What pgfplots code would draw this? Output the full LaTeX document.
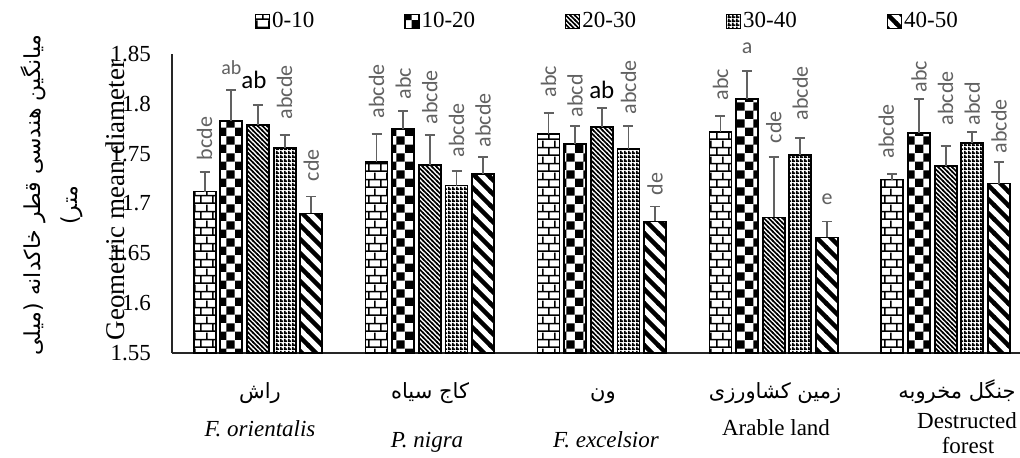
\documentclass[border=0pt]{standalone}
\usepackage{fontspec}
\setmainfont{Liberation Serif}
\newfontfamily\calfont{Carlito}
\newfontfamily\arabicfont[Script=Arabic]{DejaVu Sans}
\TeXXeTstate=1
\usepackage{pgfplots}
\pgfplotsset{compat=1.18}
\usepackage{pgfplotstable}
\usetikzlibrary{patterns}

% ---- fill patterns, one per soil depth ----
\pgfdeclarepatternformonly{brickwall}{\pgfqpoint{0pt}{0pt}}{\pgfqpoint{6.2pt}{7.8pt}}{\pgfqpoint{6.2pt}{7.8pt}}{%
  \pgfsetlinewidth{0.8pt}%
  \pgfpathmoveto{\pgfqpoint{0pt}{0.4pt}}\pgfpathlineto{\pgfqpoint{6.2pt}{0.4pt}}%
  \pgfpathmoveto{\pgfqpoint{0pt}{4.3pt}}\pgfpathlineto{\pgfqpoint{6.2pt}{4.3pt}}%
  \pgfpathmoveto{\pgfqpoint{1.5pt}{0.4pt}}\pgfpathlineto{\pgfqpoint{1.5pt}{4.3pt}}%
  \pgfpathmoveto{\pgfqpoint{4.6pt}{4.3pt}}\pgfpathlineto{\pgfqpoint{4.6pt}{7.8pt}}%
  \pgfusepath{stroke}}
\pgfdeclarepatternformonly{checks}{\pgfqpoint{0pt}{0pt}}{\pgfqpoint{8.4pt}{8.4pt}}{\pgfqpoint{8.4pt}{8.4pt}}{%
  \pgfpathrectangle{\pgfqpoint{0pt}{0pt}}{\pgfqpoint{4.2pt}{4.2pt}}%
  \pgfpathrectangle{\pgfqpoint{4.2pt}{4.2pt}}{\pgfqpoint{4.2pt}{4.2pt}}%
  \pgfusepath{fill}}
\pgfdeclarepatternformonly{finediag}{\pgfqpoint{-0.5pt}{-0.5pt}}{\pgfqpoint{2.8pt}{2.8pt}}{\pgfqpoint{2.3pt}{2.3pt}}{%
  \pgfsetlinewidth{0.8pt}%
  \pgfpathmoveto{\pgfqpoint{-0.5pt}{2.8pt}}\pgfpathlineto{\pgfqpoint{2.8pt}{-0.5pt}}%
  \pgfusepath{stroke}}
\pgfdeclarepatternformonly{finegrid}{\pgfqpoint{0pt}{0pt}}{\pgfqpoint{2pt}{2pt}}{\pgfqpoint{2pt}{2pt}}{%
  \pgfpathrectangle{\pgfqpoint{0pt}{0pt}}{\pgfqpoint{2pt}{1pt}}%
  \pgfpathrectangle{\pgfqpoint{0pt}{0pt}}{\pgfqpoint{1pt}{2pt}}%
  \pgfusepath{fill}}
\pgfdeclarepatternformonly{widediag}{\pgfqpoint{-1pt}{-1pt}}{\pgfqpoint{8pt}{8pt}}{\pgfqpoint{7pt}{7pt}}{%
  \pgfsetlinewidth{2.2pt}%
  \pgfpathmoveto{\pgfqpoint{-1pt}{8pt}}\pgfpathlineto{\pgfqpoint{8pt}{-1pt}}%
  \pgfusepath{stroke}}

% ---- letter labels above the error bars ----
\tikzset{
  lr/.style={font=\calfont\fontsize{11}{13}\selectfont, text=black!62, rotate=90, anchor=west, inner sep=0pt},
  lh/.style={font=\calfont\fontsize{#1}{13}\selectfont, text=black!62, anchor=base, inner sep=0pt},
  lb/.style={font=\calfont\fontsize{12.5}{14}\selectfont, text=black, anchor=base, inner sep=0pt},
  fa/.style={font=\arabicfont\fontsize{10.5}{13}\selectfont, anchor=base, inner sep=0pt},
  en/.style={font=\fontsize{11.5}{13}\selectfont, anchor=base, inner sep=0pt},
}

% ---- data: mean GMD (mm) and standard error, land uses 0..4 ----
\pgfplotstableread{
x y e
0 1.712 0.020
1 1.742 0.028
2 1.770 0.021
3 1.772 0.016
4 1.724 0.006
}\depthA
\pgfplotstableread{
x y e
0 1.783 0.031
1 1.775 0.018
2 1.760 0.018
3 1.805 0.028
4 1.771 0.034
}\depthB
\pgfplotstableread{
x y e
0 1.779 0.020
1 1.739 0.030
2 1.777 0.019
3 1.686 0.061
4 1.738 0.020
}\depthC
\pgfplotstableread{
x y e
0 1.756 0.013
1 1.718 0.015
2 1.755 0.023
3 1.749 0.017
4 1.761 0.011
}\depthD
\pgfplotstableread{
x y e
0 1.690 0.017
1 1.730 0.017
2 1.682 0.015
3 1.666 0.016
4 1.720 0.022
}\depthE

\begin{document}
\begin{tikzpicture}
\useasboundingbox (0,0) rectangle (510pt,-228.5pt);
\fill[white] (0,0) rectangle (510pt,-228.5pt);
\begin{axis}[
  at={(86pt,-176.5pt)}, anchor=south west,
  scale only axis, width=425.5pt, height=149.5pt,
  xmin=-0.5, xmax=4.45, ymin=1.55, ymax=1.85,
  axis x line*=bottom, axis y line*=left,
  axis line style={line width=0.7pt, black!85},
  xtick=\empty,
  ytick={1.55,1.6,1.65,1.7,1.75,1.8,1.85},
  major tick length=0pt,
  yticklabel style={font=\fontsize{11.5}{13}\selectfont, xshift=-7pt,
     /pgf/number format/fixed, /pgf/number format/precision=2,
     /pgf/number format/assume math mode=true},
  ybar, bar width=0.128,
  clip mode=individual,
  legend columns=5,
  legend style={draw=none, fill=none, at={(0.097,1.11)}, anchor=west,
     inner sep=0pt, font=\fontsize{11.5}{13}\selectfont,
     nodes={inner xsep=1pt, inner ysep=0pt},
     /tikz/every even column/.append style={column sep=44pt}},
  legend image code/.code={\draw[#1, line width=0.6pt] (0pt,-3.5pt) rectangle (7pt,3.5pt);},
  every axis plot/.append style={draw=black, line width=0.9pt,
    error bars/y dir=plus, error bars/y explicit,
    error bars/error bar style={line width=0.9pt, black!62},
    error bars/error mark options={rotate=90, mark size=2.5pt, line width=0.9pt, black!62}},
]
\addplot[pattern=brickwall, bar shift=-0.31] table[x=x, y=y, y error=e] {\depthA};
\addlegendentry{0-10}
\addplot[pattern=checks, bar shift=-0.155] table[x=x, y=y, y error=e] {\depthB};
\addlegendentry{10-20}
\addplot[pattern=finediag, bar shift=0] table[x=x, y=y, y error=e] {\depthC};
\addlegendentry{20-30}
\addplot[pattern=finegrid, bar shift=0.155] table[x=x, y=y, y error=e] {\depthD};
\addlegendentry{30-40}
\addplot[pattern=widediag, bar shift=0.31] table[x=x, y=y, y error=e] {\depthE};
\addlegendentry{40-50}

% significance letters
\node[lr] at ([yshift=5.5pt]axis cs:-0.31,1.732) {bcde};
\node[lh=10] at ([yshift=7.8pt]axis cs:-0.155,1.814) {ab};
\node[lb] at ([xshift=-2pt,yshift=8pt]axis cs:0,1.799) {ab};
\node[lr] at ([yshift=7.5pt]axis cs:0.155,1.769) {abcde};
\node[lr] at ([yshift=7.5pt]axis cs:0.31,1.707) {cde};

\node[lr] at ([yshift=7.5pt]axis cs:0.69,1.770) {abcde};
\node[lr] at ([yshift=5.5pt]axis cs:0.845,1.793) {abc};
\node[lr] at ([yshift=5pt]axis cs:1,1.769) {abcde};
\node[lr] at ([yshift=6.5pt]axis cs:1.155,1.733) {abcde};
\node[lr] at ([yshift=4.5pt]axis cs:1.31,1.747) {abcde};

\node[lr] at ([yshift=7.5pt]axis cs:1.69,1.791) {abc};
\node[lr] at ([yshift=4pt]axis cs:1.845,1.778) {abcd};
\node[lb] at ([yshift=4.5pt]axis cs:2,1.796) {ab};
\node[lr] at ([yshift=5.5pt]axis cs:2.155,1.778) {abcde};
\node[lr] at ([yshift=5.5pt]axis cs:2.31,1.697) {de};

\node[lr] at ([yshift=7.5pt]axis cs:2.69,1.788) {abc};
\node[lh=11] at ([yshift=8.5pt]axis cs:2.845,1.833) {a};
\node[lr] at ([yshift=6.5pt]axis cs:3,1.747) {cde};
\node[lr] at ([yshift=8.5pt]axis cs:3.155,1.766) {abcde};
\node[lh=11] at ([yshift=8.3pt]axis cs:3.31,1.682) {e};

\node[lr] at ([xshift=-3pt,yshift=7.5pt]axis cs:3.69,1.730) {abcde};
\node[lr] at ([yshift=3pt]axis cs:3.845,1.805) {abc};
\node[lr] at ([yshift=10pt]axis cs:4,1.758) {abcde};
\node[lr] at ([yshift=3pt]axis cs:4.155,1.772) {abcd};
\node[lr] at ([yshift=4pt]axis cs:4.31,1.742) {abcde};
\end{axis}

% axis titles and category names, placed in a pixel-like grid
\begin{scope}[x=0.5pt, y=-0.5pt]
\node[rotate=90, font=\fontsize{13.5}{15}\selectfont, inner sep=0pt] at (115,200) {Geometric mean diameter};
\node[rotate=90, font=\arabicfont\fontsize{11}{13}\selectfont, inner sep=0pt] at (33,195) {\beginR میانگین هندسی قطر خاکدانه (میلی\endR};
\node[rotate=90, font=\arabicfont\fontsize{11}{13}\selectfont, inner sep=0pt] at (72,205) {\beginR متر)\endR};

\node[fa] at (260,398) {\beginR راش\endR};
\node[en] at (260,436) {\itshape F. orientalis};
\node[fa] at (430,398) {\beginR کاج سیاه\endR};
\node[en] at (427,447) {\itshape P. nigra};
\node[fa] at (603,398) {\beginR ون\endR};
\node[en] at (606,447) {\itshape F. excelsior};
\node[fa] at (775,398) {\beginR زمین کشاورزی\endR};
\node[en] at (776,435) {Arable land};
\node[fa, anchor=base east] at (1016,398) {\beginR جنگل مخروبه\endR};
\node[en] at (967,428) {Destructed};
\node[en] at (968,453) {forest};
\end{scope}
\end{tikzpicture}
\end{document}
